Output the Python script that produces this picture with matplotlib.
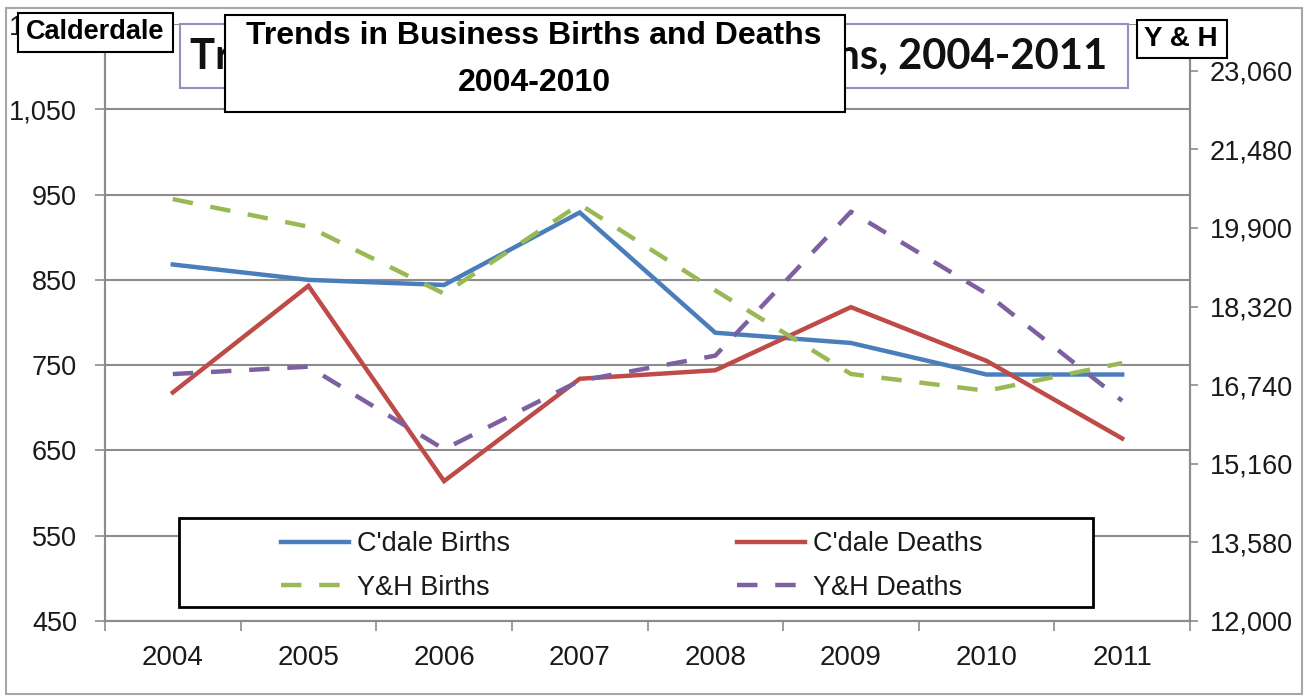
import matplotlib
matplotlib.use("Agg")
import matplotlib.pyplot as plt
from matplotlib.patches import Rectangle

years = ["2004", "2005", "2006", "2007", "2008", "2009", "2010", "2011"]
cdale_births = [868, 850, 844, 929, 788, 776, 739, 739]
cdale_deaths = [718, 843, 614, 734, 744, 818, 755, 664]
yh_births = [20480, 19925, 18580, 20375, 18645, 16965, 16627, 17186]
yh_deaths = [16964, 17112, 15451, 16829, 17334, 20227, 18580, 16426]

left_ticks = [450, 550, 650, 750, 850, 950, 1050, 1150]
right_ticks = [12000, 13580, 15160, 16740, 18320, 19900, 21480, 23060]
series_names = ["C'dale Births", "C'dale Deaths", "Y&H Births", "Y&H Deaths"]

W, H = 1309, 696
fig = plt.figure(figsize=(W / 100, H / 100), dpi=100)
fig.patch.set_facecolor("white")

def fx(px):
    return px / W

def fy(py):
    return 1 - py / H

FONT = ["Liberation Sans", "DejaVu Sans"]
GRID = "#8c8c8c"
TXT = "#1a1a1a"

# outer chart border
fig.add_artist(Rectangle((fx(6), fy(694)), fx(1302) - fx(6), fy(8) - fy(694),
                         transform=fig.transFigure, fill=False, edgecolor="#a6a6a6",
                         linewidth=1.5, zorder=1))

ax = fig.add_axes([fx(105), fy(621), fx(1190) - fx(105), fy(24) - fy(621)])
ax2 = ax.twinx()

x = list(range(len(years)))
l1, = ax.plot(x, cdale_births, color="#4A7EBB", lw=3.2, solid_joinstyle="miter")
l2, = ax.plot(x, cdale_deaths, color="#BE4B48", lw=3.2, solid_joinstyle="miter")
l3, = ax2.plot(x, yh_births, color="#98B954", lw=3.2, linestyle=(0, (4.6, 4.0)))
l4, = ax2.plot(x, yh_deaths, color="#7D60A0", lw=3.2, linestyle=(0, (4.6, 4.0)))

ax.set_xlim(-0.5, len(years) - 0.5)
ax.set_ylim(450, 1150)
ax2.set_ylim(12000, 24000)

ax.set_yticks(left_ticks)
ax.set_yticklabels([f"{v:,}" for v in left_ticks])
ax2.set_yticks(right_ticks)
ax2.set_yticklabels([f"{v:,}" for v in right_ticks])

ax.set_xticks([i - 0.5 for i in range(len(years) + 1)])
ax.set_xticklabels([])
ax.set_xticks(x, minor=True)
ax.set_xticklabels(years, minor=True)
ax.tick_params(axis="x", which="major", length=7, width=1.2, color=GRID, direction="out")
ax.tick_params(axis="x", which="minor", length=0, pad=17, labelsize=20, labelcolor=TXT)
ax.tick_params(axis="y", length=7, width=1.2, color=GRID, pad=13, labelsize=19.5, labelcolor=TXT)
ax2.tick_params(axis="y", length=6, width=1.2, color=GRID, pad=8, labelsize=19.5, labelcolor=TXT)
for lab in ax.get_yticklabels() + ax2.get_yticklabels() + ax.get_xticklabels(minor=True):
    lab.set_family(FONT)

ax.grid(axis="y", color=GRID, linewidth=1.5)
ax.set_axisbelow(True)
for a in (ax, ax2):
    a.spines["top"].set_visible(False)
    for s in ("left", "right", "bottom"):
        a.spines[s].set_color(GRID)
        a.spines[s].set_linewidth(1.5)
    a.patch.set_visible(False)

# background (excel) title box
fig.add_artist(Rectangle((fx(180), fy(88)), fx(1128) - fx(180), fy(24) - fy(88),
                         transform=fig.transFigure, facecolor="white", edgecolor="#9d8bbd",
                         linewidth=1.5, zorder=4))
bt = fig.text(fx(649), fy(57), "Trends in Business Births and Deaths, 2004-2011",
              ha="center", va="center", fontsize=28, fontweight="bold",
              family=["Lato", "DejaVu Sans"], color="#111111", zorder=5)
fig.canvas.draw()
bb = bt.get_window_extent(fig.canvas.get_renderer())
bt.set_fontsize(28 * 918 / bb.width)

# foreground title box
fig.add_artist(Rectangle((fx(225), fy(112)), fx(845) - fx(225), fy(15) - fy(112),
                         transform=fig.transFigure, facecolor="white", edgecolor="black",
                         linewidth=1.5, zorder=6))
fig.text(fx(534), fy(36), "Trends in Business Births and Deaths", ha="center", va="center",
         fontsize=23, fontweight="bold", family=FONT, color="black", zorder=7)
fig.text(fx(534), fy(83), "2004-2010", ha="center", va="center",
         fontsize=23, fontweight="bold", family=FONT, color="black", zorder=7)

# Calderdale label
fig.add_artist(Rectangle((fx(18), fy(52)), fx(173) - fx(18), fy(13) - fy(52),
                         transform=fig.transFigure, facecolor="white", edgecolor="black",
                         linewidth=1.5, zorder=6))
fig.text(fx(95), fy(32), "Calderdale", ha="center", va="center", fontsize=19.5,
         fontweight="bold", family=FONT, color="black", zorder=7)

# Y & H label
fig.add_artist(Rectangle((fx(1137), fy(58)), fx(1227) - fx(1137), fy(20) - fy(58),
                         transform=fig.transFigure, facecolor="white", edgecolor="black",
                         linewidth=1.5, zorder=6))
fig.text(fx(1181), fy(39), "Y & H", ha="center", va="center", fontsize=20,
         fontweight="bold", family=FONT, color="black", zorder=7)

# legend
fig.add_artist(Rectangle((fx(179), fy(607)), fx(1093) - fx(179), fy(518) - fy(607),
                         transform=fig.transFigure, facecolor="white", edgecolor="black",
                         linewidth=2, zorder=6))
handles = [l1, l3, l2, l4]
labels = [series_names[0], series_names[2], series_names[1], series_names[3]]
leg = fig.legend(handles, labels, ncol=2, loc="upper left",
                 bbox_to_anchor=(fx(281), fy(531)), bbox_transform=fig.transFigure,
                 frameon=False, borderpad=0, borderaxespad=0, handlelength=2.5,
                 handletextpad=0.3, columnspacing=8.4, labelspacing=0.65,
                 prop={"family": FONT, "size": 19.5})
leg.set_zorder(7)
for t in leg.get_texts():
    t.set_color(TXT)

fig.savefig("out.png", dpi=100)
